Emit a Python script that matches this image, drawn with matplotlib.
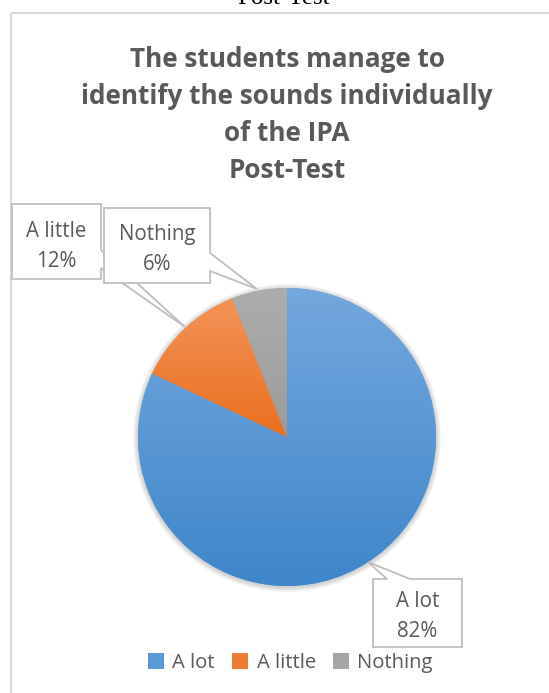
import matplotlib
matplotlib.use("Agg")
import matplotlib.pyplot as plt
import numpy as np
from matplotlib.patches import Polygon, Rectangle, Circle
from matplotlib.colors import to_rgb

# ---- data ----
categories = ["A lot", "A little", "Nothing"]
percent = [82, 12, 6]
title_lines = ["The students manage to",
               "identify the sounds individually",
               "of the IPA",
               "Post-Test"]
caption = "Post-Test"

# ---- styling ----
top_colors = ["#74a8de", "#f39358", "#adadad"]
bottom_colors = ["#3f86ca", "#ea6f1f", "#9b9b9b"]
legend_colors = ["#5b9bd5", "#ed7d31", "#a5a5a5"]
text_color = "#595959"
border_color = "#bfbfbf"
font = "Open Sans"

W, H = 549, 693
fig = plt.figure(figsize=(W / 100, H / 100), dpi=100)
ax = fig.add_axes([0, 0, 1, 1])

cx, cy, r = 287, 437, 149

# soft shadow behind the pie
for k in range(1, 6):
    ax.add_patch(Circle((cx, cy + 1), r + k, facecolor="black", alpha=0.035,
                        lw=0, zorder=1))

wedges, _ = ax.pie(percent, startangle=-90, counterclock=True,
                   center=(cx, cy), radius=r, colors=legend_colors,
                   wedgeprops=dict(linewidth=0, zorder=2))

# vertical gradient fill for each slice
t = np.linspace(0, 1, 256)[:, None, None]
for w, c0, c1 in zip(wedges, top_colors, bottom_colors):
    ext = w.get_path().get_extents()
    grad = (1 - t) * np.array(to_rgb(c0)) + t * np.array(to_rgb(c1))
    im = ax.imshow(grad, extent=(ext.x0, ext.x1, ext.y1, ext.y0),
                   origin="upper", aspect="auto", zorder=2.5,
                   interpolation="bilinear")
    im.set_clip_path(w)

# chart area border
ax.add_patch(Rectangle((11, 13), 570, 720, fill=False, edgecolor="#d9d9d9",
                       lw=1.5, zorder=0.5))

# callout boxes for the data labels
callouts = [
    [(373, 579), (387, 579), (368, 562), (410, 579), (462, 579), (462, 647), (373, 647)],
    [(12, 204), (101, 204), (101, 250), (185, 327), (101, 268), (101, 279), (12, 279)],
    [(104, 208), (210, 208), (210, 253), (257, 289), (210, 271), (210, 283), (104, 283)],
]
label_pos = [(417.5, 607, 637), (56.5, 237, 267), (157, 240, 270)]
for i, (verts, (lx, y1, y2)) in enumerate(zip(callouts, label_pos)):
    ax.add_patch(Polygon(verts, closed=True, facecolor="white",
                         edgecolor=border_color, lw=1.3, zorder=4 + i * 0.1,
                         joinstyle="miter"))
    ax.text(lx, y1, categories[i], ha="center", va="baseline", fontsize=14.8,
            family=font, color=text_color, zorder=4.05 + i * 0.1)
    ax.text(lx, y2, f"{percent[i]}%", ha="center", va="baseline", fontsize=14.8,
            family=font, color=text_color, zorder=4.05 + i * 0.1)

# chart title
for line, yb in zip(title_lines, [67, 104, 141, 178]):
    ax.text(287, yb, line, ha="center", va="baseline", fontsize=18.8,
            fontweight="bold", family=font, color=text_color, zorder=5)

# caption above the chart frame
ax.text(283, 4, caption, ha="center", va="baseline", fontsize=18,
        family="Liberation Serif", color="black", zorder=5)

# legend
handles = [Rectangle((0, 0), 1, 1, facecolor=c, lw=0) for c in legend_colors]
ax.legend(handles, categories, ncol=3, loc="center",
          bbox_to_anchor=(290.5 / W, 1 - 663 / H), frameon=False,
          prop=dict(family=font, size=14.6), labelcolor=text_color,
          handlelength=0.8, handleheight=0.8, handletextpad=0.4,
          columnspacing=0.85, borderpad=0)

ax.set_xlim(0, W)
ax.set_ylim(H, 0)
ax.set_aspect("auto")
ax.axis("off")

fig.savefig("out.png", dpi=100, facecolor="white")
